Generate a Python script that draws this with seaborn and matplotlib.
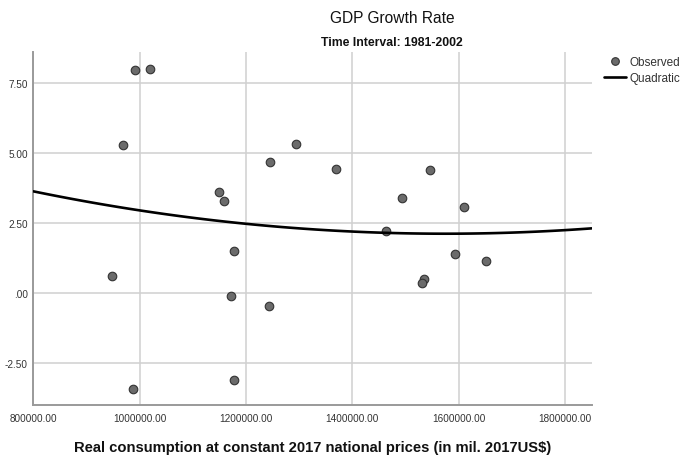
import numpy as np
import pandas as pd
import matplotlib
matplotlib.use("Agg")
import matplotlib.pyplot as plt
from matplotlib.lines import Line2D
import seaborn as sns

# Real consumption (mil. 2017US$) and GDP growth rate (%), 1981-2002
consumption = [990800, 1019600, 968800, 1148800, 1158200, 1177000, 948100,
               1244800, 1294800, 1369500, 1545100, 1492400, 1610400, 1463000,
               1592100, 1651700, 1533800, 1531300, 1243500, 988200, 1176500,
               1170900]
growth = [7.94, 7.99, 5.27, 3.60, 3.28, 1.52, 0.60,
          4.68, 5.33, 4.43, 4.39, 3.39, 3.06, 2.23,
          1.41, 1.16, 0.49, 0.35, -0.46, -3.40, -3.09,
          -0.10]

x_ticks = [800000, 1000000, 1200000, 1400000, 1600000, 1800000]
x_tick_labels = ["800000.00", "1000000.00", "1200000.00", "1400000.00",
                 "1600000.00", "1800000.00"]
y_ticks = [-2.5, 0.0, 2.5, 5.0, 7.5]
y_tick_labels = ["-2.50", ".00", "2.50", "5.00", "7.50"]

df = pd.DataFrame({"consumption": consumption, "growth": growth})

sns.set_theme(style="white")
plt.rcParams["font.family"] = ["Liberation Sans", "DejaVu Sans"]

fig = plt.figure(figsize=(6.83, 4.56), dpi=100)
ax = fig.add_axes([0.0488, 0.1103, 0.8175, 0.7728])

ax.set_xlim(800000, 1850000)
ax.set_ylim(-3.97, 8.58)

grid_color = "#d0d0d0"
ax.set_axisbelow(True)
ax.grid(True, color=grid_color, linewidth=1.1)

sns.scatterplot(data=df, x="consumption", y="growth", ax=ax, s=38,
                color="#6b6b6b", edgecolor="#333333", linewidth=0.8,
                zorder=3, legend=False)
sns.regplot(data=df, x="consumption", y="growth", ax=ax, order=2, ci=None,
            scatter=False, truncate=False,
            line_kws={"color": "black", "linewidth": 1.9, "zorder": 4})

ax.set_xlim(800000, 1850000)
ax.set_ylim(-3.97, 8.58)
ax.set_xticks(x_ticks)
ax.set_xticklabels(x_tick_labels)
ax.set_yticks(y_ticks)
ax.set_yticklabels(y_tick_labels)
ax.tick_params(axis="both", length=0, labelsize=7.2, colors="#333333")
ax.tick_params(axis="x", pad=6)
ax.tick_params(axis="y", pad=4)

for side in ("top", "right"):
    ax.spines[side].set_visible(False)
for side in ("left", "bottom"):
    ax.spines[side].set_color("#9a9a9a")
    ax.spines[side].set_linewidth(1.4)

ax.set_ylabel("")
ax.set_xlabel("Real consumption at constant 2017 national prices (in mil. 2017US$)",
              fontsize=10.6, fontweight="bold", color="#111111", labelpad=12)

fig.text(0.574, 0.960, "GDP Growth Rate", ha="center", va="center",
         fontsize=11.2, color="#111111")
fig.text(0.574, 0.905, "Time Interval: 1981-2002", ha="center", va="center",
         fontsize=8.8, fontweight="bold", color="#111111")

handles = [
    Line2D([], [], linestyle="none", marker="o", markersize=5.5,
           markerfacecolor="#6b6b6b", markeredgecolor="#333333",
           markeredgewidth=0.8),
    Line2D([], [], color="black", linewidth=1.9),
]
fig.legend(handles, ["Observed", "Quadratic"], loc="upper left",
           bbox_to_anchor=(0.884, 0.875), frameon=False, fontsize=8.5,
           handlelength=1.9, handletextpad=0.3, labelspacing=0.35,
           borderaxespad=0, borderpad=0, labelcolor="#333333")

fig.savefig("out.png", dpi=100)
